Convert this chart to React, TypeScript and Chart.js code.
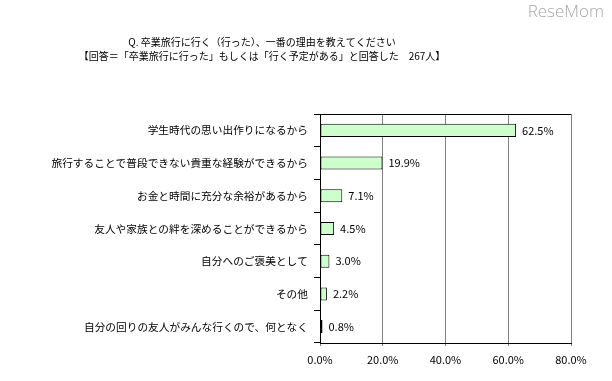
import { useEffect, useRef } from "react";
import { Chart, registerables } from "chart.js";

Chart.register(...registerables);

const categories = [
  "学生時代の思い出作りになるから",
  "旅行することで普段できない貴重な経験ができるから",
  "お金と時間に充分な余裕があるから",
  "友人や家族との絆を深めることができるから",
  "自分へのご褒美として",
  "その他",
  "自分の回りの友人がみんな行くので、何となく",
];
const values = [62.5, 19.9, 7.1, 4.5, 3.0, 2.2, 0.8];
const xTickMin = 0;
const xTickMax = 80;
const xTickStep = 20;
const titleLines = [
  "Q. 卒業旅行に行く（行った）、一番の理由を教えてください",
  "【回答＝「卒業旅行に行った」もしくは「行く予定がある」と回答した　267人】",
];
const logoText = "ReseMom";

const FONT = "'Noto Sans CJK JP', 'Noto Sans', sans-serif";

export default function App() {
  const ref = useRef<HTMLCanvasElement | null>(null);
  useEffect(() => {
    if (!ref.current) return;
    const extras = {
      id: "extras",
      afterDraw(chart: any) {
        const ctx = chart.ctx;
        const a = chart.chartArea;
        ctx.save();
        // top border
        ctx.strokeStyle = "#000";
        ctx.lineWidth = 1;
        ctx.beginPath();
        ctx.moveTo(a.left, a.top + 0.5);
        ctx.lineTo(a.right, a.top + 0.5);
        ctx.stroke();
        // titles
        ctx.fillStyle = "#000";
        ctx.textAlign = "center";
        ctx.textBaseline = "middle";
        ctx.font = `10px ${FONT}`;
        ctx.fillText(titleLines[0], 262, 42);
        ctx.fillText(titleLines[1], 262, 56);
        // logo
        ctx.font = `300 17px 'Open Sans', ${FONT}`;
        ctx.textAlign = "right";
        ctx.fillStyle = "#a8a8a8";
        ctx.fillText(logoText, 604, 12);
        ctx.restore();
      },
      afterDatasetsDraw(chart: any) {
        const ctx = chart.ctx;
        const meta = chart.getDatasetMeta(0);
        ctx.save();
        ctx.fillStyle = "#000";
        ctx.font = `11px ${FONT}`;
        ctx.textAlign = "left";
        ctx.textBaseline = "middle";
        meta.data.forEach((bar: any, i: number) => {
          ctx.fillText(values[i].toFixed(1) + "%", bar.x + 6, bar.y);
        });
        ctx.restore();
      },
    };
    const chart = new Chart(ref.current, {
      type: "bar",
      data: {
        labels: categories,
        datasets: [
          {
            data: values,
            backgroundColor: "#ccffcc",
            borderColor: "#000",
            borderWidth: 1,
            borderSkipped: false,
            barPercentage: 0.4,
            categoryPercentage: 1,
          },
        ],
      },
      options: {
        indexAxis: "y",
        animation: false,
        responsive: false,
        layout: { padding: { left: 0, right: 41, top: 114, bottom: 0 } },
        plugins: { legend: { display: false }, tooltip: { enabled: false }, title: { display: false } },
        scales: {
          x: {
            min: xTickMin,
            max: xTickMax,
            ticks: {
              stepSize: xTickStep,
              color: "#000",
              font: { family: FONT, size: 11 },
              padding: 7,
              callback: (v: any) => Number(v).toFixed(1) + "%",
            },
            grid: { color: "#808080", tickLength: 3, drawTicks: true },
            border: { display: true, color: "#000" },
            afterFit: (s: any) => {
              s.height = 38;
            },
          },
          y: {
            ticks: {
              color: "#000",
              font: { family: FONT, size: 10.7 },
              padding: 6,
            },
            grid: { drawOnChartArea: false, color: "#000", tickLength: 6, offset: true },
            border: { display: true, color: "#000" },
            afterFit: (s: any) => {
              s.width = 320;
            },
          },
        },
      },
      plugins: [extras],
    });
    return () => chart.destroy();
  }, []);
  return (
    <div style={{ position: "fixed", left: 0, top: 0, width: 612, height: 381, background: "#fff" }}>
      <canvas ref={ref} width={612} height={381} />
    </div>
  );
}
